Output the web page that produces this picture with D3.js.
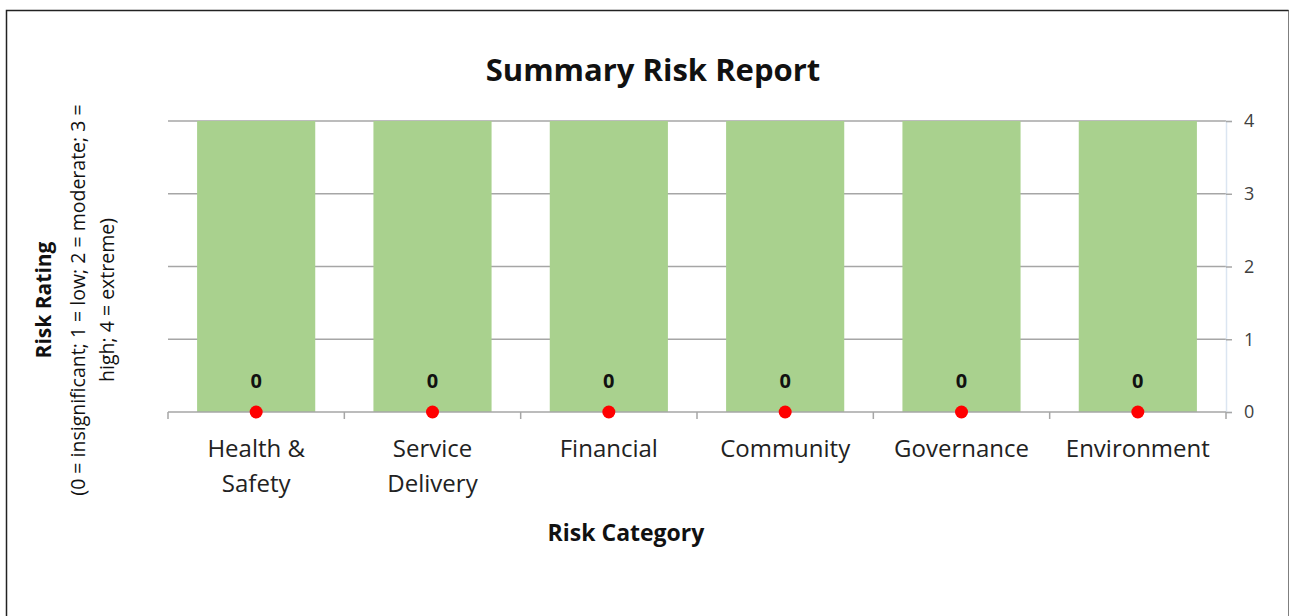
<!DOCTYPE html>
<html lang="en">
<head>
<meta charset="UTF-8">
<title>Summary Risk Report</title>
<style>
  body { margin: 0; background: #fff; font-family: 'Open Sans', sans-serif; }
</style>
</head>
<body>
<div id="chart"></div>
<script src="https://cdn.jsdelivr.net/npm/d3@7/dist/d3.min.js"></script>
<script>
// data
var categories = ['Health & Safety', 'Service Delivery', 'Financial', 'Community', 'Governance', 'Environment'];
var categoryLines = [['Health &', 'Safety'], ['Service', 'Delivery'], ['Financial'], ['Community'], ['Governance'], ['Environment']];
var backgroundValues = [4, 4, 4, 4, 4, 4];   // green band (max rating)
var riskValues = [0, 0, 0, 0, 0, 0];         // red points
var yTicks = [0, 1, 2, 3, 4];

var W = 1293, H = 616;
var margin = {left: 168, right: W - 1226, top: 121, bottom: H - 412};
var iw = W - margin.left - margin.right, ih = H - margin.top - margin.bottom;

var svg = d3.select('#chart').append('svg').attr('width', W).attr('height', H)
  .style('font-family', "'Open Sans', sans-serif");

// frame
svg.append('rect').attr('x', 6.5).attr('y', 10.5).attr('width', 1282).attr('height', 610)
  .attr('fill', '#fff').attr('stroke', '#7f7f7f').attr('stroke-width', 1);
svg.append('path').attr('d', 'M6.5,616V10.5H1288.5').attr('fill', 'none').attr('stroke', '#222').attr('stroke-width', 1.5);

var g = svg.append('g').attr('transform', 'translate(' + margin.left + ',' + margin.top + ')');

var x = d3.scaleBand().domain(categories).range([0, iw]).paddingInner(0.33).paddingOuter(0.165);
var xb = d3.scaleBand().domain(categories).range([0, iw]);
var y = d3.scaleLinear().domain([0, 4]).range([ih, 0]);

// gridlines
g.append('g').selectAll('line').data(yTicks.filter(function(d){ return d > 0; })).join('line')
  .attr('x1', 0).attr('x2', iw).attr('y1', function(d){ return y(d); }).attr('y2', function(d){ return y(d); })
  .attr('stroke', '#a6a6a6').attr('stroke-width', 1.5);

// bars
g.append('g').selectAll('rect').data(backgroundValues).join('rect')
  .attr('x', function(d, i){ return x(categories[i]); })
  .attr('width', x.bandwidth())
  .attr('y', function(d){ return y(d); })
  .attr('height', function(d){ return y(0) - y(d); })
  .attr('fill', '#a9d18e');

// right axis
var yAxis = d3.axisRight(y).tickValues(yTicks).tickSize(6).tickPadding(12).tickFormat(d3.format('d'));
var ya = g.append('g').attr('transform', 'translate(' + iw + ',0)').call(yAxis);
ya.select('.domain').attr('stroke', '#dbe5f1').attr('stroke-width', 1.5);
ya.selectAll('.tick line').attr('stroke', '#a6a6a6').attr('stroke-width', 1.5);
ya.selectAll('.tick text').attr('font-family', "'Open Sans', sans-serif").attr('font-size', 18).attr('fill', '#404040');

// x axis line and ticks at category boundaries
g.append('line').attr('x1', 0).attr('x2', iw).attr('y1', ih).attr('y2', ih)
  .attr('stroke', '#a6a6a6').attr('stroke-width', 1.5);
var bounds = categories.map(function(c){ return xb(c); }).concat([iw]);
g.append('g').selectAll('line').data(bounds).join('line')
  .attr('x1', function(d){ return d; }).attr('x2', function(d){ return d; })
  .attr('y1', ih).attr('y2', ih + 7)
  .attr('stroke', '#a6a6a6').attr('stroke-width', 1.5);

// category labels
var cl = g.append('g').selectAll('text').data(categoryLines).join('text')
  .attr('x', function(d, i){ return xb(categories[i]) + xb.bandwidth() / 2; })
  .attr('y', ih + 45)
  .attr('text-anchor', 'middle')
  .attr('font-size', 24).attr('fill', '#222');
cl.selectAll('tspan').data(function(d){ return d; }).join('tspan')
  .attr('x', function(){ return this.parentNode.getAttribute('x'); })
  .attr('dy', function(d, i){ return i === 0 ? 0 : 35; })
  .text(function(d){ return d; });

// points
g.append('g').selectAll('circle').data(riskValues).join('circle')
  .attr('cx', function(d, i){ return xb(categories[i]) + xb.bandwidth() / 2; })
  .attr('cy', function(d){ return y(d); })
  .attr('r', 6.5).attr('fill', '#ff0000');

// value labels
g.append('g').selectAll('text').data(riskValues).join('text')
  .attr('x', function(d, i){ return xb(categories[i]) + xb.bandwidth() / 2; })
  .attr('y', function(d){ return y(d) - 24; })
  .attr('text-anchor', 'middle')
  .attr('font-size', 20).attr('font-weight', 'bold').attr('fill', '#111')
  .text(function(d){ return d; });

// title
svg.append('text').attr('x', 653).attr('y', 81).attr('text-anchor', 'middle')
  .attr('font-size', 31).attr('font-weight', 'bold').attr('fill', '#111')
  .text('Summary Risk Report');

// x axis title
svg.append('text').attr('x', 626).attr('y', 541).attr('text-anchor', 'middle')
  .attr('font-size', 23).attr('font-weight', 'bold').attr('fill', '#111')
  .text('Risk Category');

// y axis title
var yt = svg.append('g').attr('transform', 'translate(51,300) rotate(-90)');
yt.append('text').attr('text-anchor', 'middle').attr('y', 0)
  .attr('font-size', 21).attr('font-weight', 'bold').attr('fill', '#111').text('Risk Rating');
yt.append('text').attr('text-anchor', 'middle').attr('y', 34)
  .attr('font-size', 19.5).attr('fill', '#111').text('(0 = insignificant; 1 = low; 2 = moderate; 3 =');
yt.append('text').attr('text-anchor', 'middle').attr('y', 63)
  .attr('font-size', 19.5).attr('fill', '#111').text('high; 4 = extreme)');
</script>
</body>
</html>
